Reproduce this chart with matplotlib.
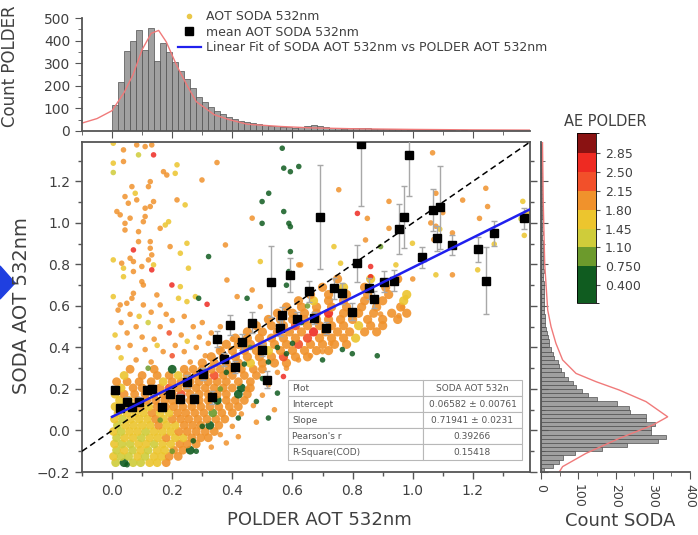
import numpy as np
import matplotlib
matplotlib.use("Agg")
from matplotlib import pyplot as plt
from matplotlib.colors import ListedColormap, BoundaryNorm
from matplotlib.cm import ScalarMappable
from matplotlib.lines import Line2D
from matplotlib.patches import Polygon

plt.rcParams['font.family'] = ['DejaVu Sans']
TXT = '#404040'

# ---------------- data ----------------
ae_bounds = [0.07, 0.75, 1.1, 1.45, 1.8, 2.15, 2.5, 2.85, 3.22]
ae_colors = ['#105c20', '#6c9a2c', '#cfcc3a', '#ecc52e', '#f0922c', '#f2502a', '#ee2a22', '#8a1212']
ae_ticks = [0.4, 0.75, 1.1, 1.45, 1.8, 2.15, 2.5, 2.85]
ae_ticklabels = ['0.400', '0.750', '1.10', '1.45', '1.80', '2.15', '2.50', '2.85']
# AE value of each colour code used below
ae_code = {'e': 0.5, 'v': 0.9, 'y': 1.3, 'g': 1.6, 'o': 2.0, 'r': 2.3, 'R': 2.7}

# dense cloud near the origin: (SODA AOT, POLDER AOT list, AE codes)
blob_rows = [
    (-0.155, [0.012, 0.04, 0.07, 0.095, 0.125, 0.15, 0.18], "yeyyggo"),
    (-0.125, [0.005, 0.03, 0.055, 0.085, 0.11, 0.14, 0.165, 0.19, 0.22], "gyygyggoo"),
    (-0.095, [0.015, 0.04, 0.068, 0.095, 0.12, 0.15, 0.175, 0.205, 0.235, 0.26], "ygygyggooe"),
    (-0.065, [0.008, 0.033, 0.06, 0.088, 0.113, 0.14, 0.168, 0.195, 0.225, 0.25, 0.28], "gyyggyggooo"),
    (-0.035, [0.015, 0.042, 0.07, 0.097, 0.125, 0.152, 0.18, 0.21, 0.237, 0.265, 0.295, 0.32], "yggyggoggooo"),
    (-0.005, [0.005, 0.03, 0.058, 0.085, 0.112, 0.14, 0.167, 0.195, 0.222, 0.25, 0.28, 0.31, 0.34], "gyggygggooooo"),
    (0.025, [0.018, 0.045, 0.072, 0.1, 0.127, 0.155, 0.182, 0.21, 0.24, 0.268, 0.295, 0.325, 0.355], "yggggoggoooeo"),
    (0.055, [0.008, 0.035, 0.062, 0.09, 0.118, 0.145, 0.172, 0.2, 0.228, 0.255, 0.285, 0.315, 0.345, 0.375], "gygggogooooooo"),
    (0.085, [0.02, 0.05, 0.078, 0.105, 0.133, 0.16, 0.19, 0.218, 0.245, 0.275, 0.305, 0.335, 0.365, 0.4], "ggggoggoooovoo"),
    (0.115, [0.01, 0.04, 0.068, 0.095, 0.122, 0.15, 0.178, 0.205, 0.235, 0.265, 0.295, 0.325, 0.355, 0.39, 0.42], "gggogoooooooooo"),
    (0.145, [0.025, 0.055, 0.085, 0.115, 0.145, 0.175, 0.2, 0.23, 0.26, 0.29, 0.32, 0.35, 0.38, 0.41, 0.44], "ggoooooooooeooo"),
    (0.175, [0.01, 0.04, 0.075, 0.11, 0.14, 0.17, 0.2, 0.23, 0.26, 0.29, 0.32, 0.35, 0.38, 0.42, 0.45], "gooooooroooooeo"),
    (0.205, [0.03, 0.07, 0.1, 0.13, 0.16, 0.19, 0.22, 0.25, 0.28, 0.31, 0.34, 0.37, 0.4, 0.43, 0.46], "gooooroooooooeo"),
    (0.235, [0.015, 0.05, 0.09, 0.13, 0.17, 0.2, 0.23, 0.26, 0.29, 0.32, 0.35, 0.38, 0.42, 0.46], "oooogooooooooo"),
    (0.265, [0.04, 0.1, 0.15, 0.19, 0.22, 0.25, 0.28, 0.31, 0.34, 0.37, 0.4, 0.44, 0.48], "gooogoooroooo"),
    (0.295, [0.06, 0.14, 0.2, 0.24, 0.27, 0.3, 0.33, 0.36, 0.39, 0.43, 0.47, 0.5], "ooeooooooooo"),
]

# dense band along the fit line
band_rows = [
    (0.325, [0.3, 0.34, 0.38, 0.42, 0.46, 0.5, 0.54, 0.58], "oooogooo"),
    (0.355, [0.33, 0.37, 0.41, 0.45, 0.49, 0.53, 0.57, 0.61, 0.65], "ooooooroo"),
    (0.385, [0.36, 0.4, 0.44, 0.48, 0.52, 0.56, 0.6, 0.64, 0.68, 0.72], "oooogooooo"),
    (0.415, [0.38, 0.42, 0.46, 0.5, 0.54, 0.58, 0.62, 0.66, 0.7, 0.74, 0.78], "ooooooroooo"),
    (0.445, [0.41, 0.45, 0.49, 0.53, 0.57, 0.61, 0.65, 0.69, 0.73, 0.77, 0.81], "oooooorooog"),
    (0.475, [0.45, 0.5, 0.55, 0.59, 0.63, 0.67, 0.71, 0.75, 0.79, 0.84, 0.88], "oooooRooooo"),
    (0.505, [0.48, 0.53, 0.57, 0.61, 0.65, 0.69, 0.73, 0.77, 0.82, 0.86, 0.9], "oooroooogoo"),
    (0.535, [0.52, 0.56, 0.6, 0.64, 0.68, 0.72, 0.76, 0.8, 0.85, 0.9, 0.95], "ooooooooooo"),
    (0.565, [0.55, 0.6, 0.64, 0.68, 0.72, 0.77, 0.82, 0.87, 0.93, 0.98], "ooooRooooo"),
    (0.595, [0.58, 0.63, 0.68, 0.73, 0.78, 0.83, 0.88, 0.96], "oooooooo"),
    (0.625, [0.62, 0.67, 0.72, 0.77, 0.84, 0.9, 0.97], "ogoooog"),
    (0.655, [0.66, 0.72, 0.78, 0.85, 0.92, 0.98], "ooooog"),
    (0.69, [0.7, 0.77, 0.84, 0.91], "ogoo"),
    (0.73, [0.75, 0.86, 0.95], "ogo"),
]

# sparse points high above the 1:1 line (x, y, code)
pts_upper = [
    (0.004, 1.384, 'g'), (0.038, 1.352, 'o'), (0.082, 1.376, 'o'), (0.11, 1.368, 'o'), (0.132, 1.376, 'o'),
    (0.138, 1.328, 'R'), (0.088, 1.328, 'y'), (0.038, 1.296, 'o'), (0.004, 1.288, 'g'), (0.004, 1.243, 'y'),
    (0.216, 1.28, 'g'), (0.171, 1.247, 'o'), (0.182, 1.231, 'o'), (0.21, 1.239, 'g'), (0.349, 1.291, 'o'),
    (0.299, 1.207, 'o'), (0.127, 1.199, 'o'), (0.066, 1.175, 'o'), (0.121, 1.175, 'o'), (0.077, 1.143, 'g'),
    (0.043, 1.127, 'o'), (0.054, 1.095, 'o'), (0.082, 1.111, 'o'), (0.138, 1.103, 'o'), (0.11, 1.071, 'o'),
    (0.127, 1.079, 'o'), (0.216, 1.111, 'o'), (0.243, 1.087, 'g'), (0.016, 1.055, 'o'), (0.027, 1.039, 'o'),
    (0.06, 1.023, 'o'), (0.11, 1.031, 'o'), (0.104, 1.006, 'o'), (0.043, 0.998, 'o'), (0.188, 1.006, 'g'),
    (0.177, 0.99, 'g'), (0.16, 0.974, 'o'), (0.043, 0.966, 'o'), (0.088, 0.958, 'o'), (0.088, 0.91, 'o'),
    (0.127, 0.91, 'o'), (0.193, 0.886, 'o'), (0.249, 0.902, 'g'), (0.377, 0.894, 'o'), (0.071, 0.87, 'R'),
    (0.127, 0.878, 'o'), (0.132, 0.846, 'o'), (0.06, 0.83, 'o'), (0.004, 0.822, 'g'), (0.032, 0.806, 'o'),
    (0.071, 0.814, 'o'), (0.121, 0.822, 'o'), (0.138, 0.798, 'g'), (0.038, 0.782, 'g'), (0.071, 0.766, 'o'),
    (0.099, 0.79, 'o'), (0.132, 0.774, 'R'), (0.227, 0.854, 'g'), (0.254, 0.782, 'g'), (0.038, 0.741, 'g'),
    (0.099, 0.717, 'o'), (0.104, 0.701, 'o'), (0.382, 0.725, 'o'), (0.199, 0.701, 'R'), (0.227, 0.693, 'g'),
    (0.071, 0.661, 'o'), (0.004, 0.645, 'g'), (0.066, 0.637, 'o'), (0.149, 0.653, 'o'), (0.221, 0.637, 'g'),
    (0.249, 0.621, 'g'), (0.277, 0.645, 'g'), (0.316, 0.608, 'R'), (0.416, 0.645, 'o'), (0.466, 0.677, 'o'),
    (0.493, 0.597, 'o'), (0.027, 0.605, 'o'), (0.049, 0.613, 'o'), (0.104, 0.605, 'o'), (0.16, 0.605, 'o'),
    (0.493, 0.814, 'g'), (0.466, 1.023, 'o'), (0.621, 0.798, 'o'),
    (0.02, 0.58, 'o'), (0.06, 0.56, 'o'), (0.09, 0.55, 'g'), (0.13, 0.57, 'o'), (0.18, 0.56, 'o'),
    (0.03, 0.52, 'o'), (0.08, 0.5, 'o'), (0.12, 0.52, 'y'), (0.16, 0.5, 'o'), (0.2, 0.53, 'o'),
    (0.24, 0.55, 'o'), (0.01, 0.46, 'g'), (0.05, 0.47, 'o'), (0.1, 0.45, 'o'), (0.14, 0.44, 'o'),
    (0.19, 0.47, 'r'), (0.23, 0.46, 'o'), (0.27, 0.5, 'o'), (0.3, 0.52, 'o'), (0.02, 0.4, 'o'),
    (0.06, 0.41, 'o'), (0.11, 0.39, 'o'), (0.15, 0.41, 'g'), (0.17, 0.38, 'o'), (0.21, 0.41, 'o'),
    (0.25, 0.43, 'g'), (0.29, 0.45, 'o'), (0.33, 0.47, 'o'), (0.36, 0.5, 'o'), (0.03, 0.35, 'g'),
    (0.08, 0.34, 'o'), (0.13, 0.33, 'o'), (0.2, 0.36, 'r'), (0.24, 0.38, 'o'), (0.28, 0.4, 'o'),
    (0.32, 0.42, 'o'), (0.26, 0.33, 'o'), (0.31, 0.36, 'o'), (0.36, 0.39, 'o'), (0.4, 0.44, 'o'),
]

# green (low AE) points
pts_green = [
    (0.566, 1.36, 'e'), (0.571, 1.264, 'e'), (0.593, 1.247, 'e'), (0.621, 1.272, 'e'), (0.521, 1.143, 'e'),
    (0.499, 1.103, 'e'), (0.571, 1.055, 'e'), (0.499, 0.998, 'e'), (0.588, 0.998, 'e'), (0.593, 0.982, 'e'),
    (0.593, 0.862, 'e'), (0.321, 0.838, 'e'), (0.588, 0.766, 'e'), (0.288, 0.637, 'e'), (0.449, 0.637, 'e'),
    (0.893, 0.886, 'v'), (0.766, 0.39, 'e'), (0.799, 0.37, 'e'), (0.882, 0.36, 'e'), (0.7, 0.34, 'e'),
    (0.63, 0.52, 'e'), (0.6, 0.42, 'e'), (0.65, 0.6, 'v'), (0.58, 0.7, 'e'), (0.38, 0.28, 'e'),
    (0.33, 0.17, 'e'), (0.36, 0.2, 'v'), (0.44, 0.32, 'e'), (0.46, 0.4, 'v'), (0.5, 0.25, 'e'),
    (0.48, 0.14, 'e'), (0.52, 0.33, 'e'), (0.27, -0.05, 'e'), (0.2, -0.1, 'v'), (0.05, -0.165, 'e'),
    (0.16, 0.05, 'v'), (0.3, 0.02, 'e'), (0.55, 0.18, 'e'), (0.52, 0.06, 'e'), (0.28, -0.1, 'e'),
    (0.12, 0.3, 'v'), (0.42, 0.06, 'e'), (0.55, 0.4, 'e'), (0.58, 0.37, 'e'),
]

# sparse points on the right and below the band
pts_right = [
    (1.066, 1.338, 'o'), (0.754, 1.16, 'o'), (0.921, 1.104, 'o'), (1.166, 1.11, 'o'), (1.243, 1.167, 'o'),
    (1.249, 1.079, 'o'), (1.222, 1.022, 'o'), (1.366, 1.104, 'g'), (1.371, 0.94, 'g'), (1.271, 0.898, 'g'),
    (1.077, 1.143, 'o'), (1.077, 0.984, 'o'), (1.132, 0.952, 'o'), (1.132, 0.75, 'o'), (1.077, 0.75, 'g'),
    (1.216, 0.774, 'g'), (0.999, 0.902, 'g'), (0.816, 1.046, 'R'), (0.849, 1.022, 'o'), (0.843, 0.918, 'o'),
    (0.921, 0.974, 'o'), (0.738, 0.886, 'g'), (0.76, 0.806, 'g'), (0.627, 0.798, 'o'), (0.86, 0.79, 'R'),
    (0.944, 0.798, 'g'), (0.86, 0.741, 'R'), (0.977, 0.64, 'g'), (0.966, 0.593, 'o'), (0.954, 0.553, 'o'),
    (0.893, 0.561, 'o'), (0.727, 0.42, 'o'), (1.36, 1.02, 'y'), (1.38, 1.05, 'g'), (1.0, 0.73, 'o'),
    (1.07, 0.92, 'o'), (1.1, 1.05, 'o'), (1.06, 1.0, 'o'), (1.09, 0.97, 'g'),
    (0.36, -0.02, 'o'), (0.4, 0.02, 'o'), (0.43, 0.08, 'o'), (0.47, 0.12, 'o'), (0.5, 0.17, 'o'),
    (0.45, 0.2, 'o'), (0.52, 0.22, 'o'), (0.55, 0.28, 'o'), (0.38, -0.06, 'o'), (0.33, -0.08, 'o'),
    (0.42, -0.03, 'o'), (0.48, 0.04, 'o'), (0.58, 0.3, 'o'), (0.62, 0.34, 'o'), (0.54, 0.1, 'o'),
    (0.57, 0.26, 'R'), (0.66, 0.36, 'o'), (0.7, 0.38, 'o'),
]

# mean SODA AOT per POLDER AOT bin: x, y, std
mean_x = [0.01, 0.027, 0.049, 0.066, 0.088, 0.115, 0.132, 0.166, 0.193, 0.226, 0.249, 0.271, 0.304,
          0.332, 0.349, 0.371, 0.393, 0.41, 0.432, 0.466, 0.499, 0.516, 0.527, 0.56, 0.566, 0.593,
          0.616, 0.654, 0.671, 0.693, 0.71, 0.738, 0.766, 0.799, 0.816, 0.827, 0.854, 0.871, 0.904,
          0.938, 0.954, 0.971, 0.988, 1.032, 1.067, 1.08, 1.091, 1.132, 1.216, 1.243, 1.271, 1.369]
mean_y = [0.195, 0.107, 0.139, 0.114, 0.139, 0.195, 0.198, 0.114, 0.178, 0.154, 0.235, 0.154, 0.272,
          0.159, 0.44, 0.343, 0.508, 0.307, 0.427, 0.52, 0.387, 0.245, 0.717, 0.493, 0.555, 0.749,
          0.539, 0.67, 0.541, 1.03, 0.493, 0.685, 0.661, 0.573, 0.806, 1.38, 0.685, 0.632, 0.717,
          0.722, 0.971, 1.027, 1.328, 0.835, 1.063, 0.926, 1.076, 0.894, 0.873, 0.722, 0.95, 1.022]
mean_err = [0.02, 0.02, 0.02, 0.02, 0.02, 0.02, 0.02, 0.02, 0.02, 0.02, 0.03, 0.02, 0.03,
            0.03, 0.04, 0.03, 0.05, 0.03, 0.04, 0.05, 0.03, 0.04, 0.17, 0.04, 0.04, 0.08,
            0.03, 0.05, 0.03, 0.25, 0.03, 0.05, 0.05, 0.04, 0.09, 0.3, 0.05, 0.04, 0.05,
            0.05, 0.12, 0.15, 0.2, 0.05, 0.1, 0.06, 0.2, 0.05, 0.06, 0.16, 0.06, 0.05]

fit_intercept = 0.06582
fit_slope = 0.71941
fit_range = [0.0, 1.39]

table_rows = [["Plot", "SODA AOT 532n"],
              ["Intercept", "0.06582 \u00b1 0.00761"],
              ["Slope", "0.71941 \u00b1 0.0231"],
              ["Pearson's r", "0.39266"],
              ["R-Square(COD)", "0.15418"]]

# histogram of POLDER AOT (bins of 0.02 starting at 0)
polder_bin_start, bin_w = 0.0, 0.02
polder_counts = [115, 218, 355, 400, 445, 360, 455, 310, 390, 350, 305, 265, 228, 190, 152, 128, 105,
                 90, 76, 64, 55, 46, 40, 35, 30, 27, 24, 20, 18, 16, 14, 17, 24, 27, 24, 19, 15, 12,
                 10, 12, 14, 15, 12, 10, 9, 8, 10, 9, 7, 6, 5, 4, 5, 4, 3, 4, 3, 2, 3, 2, 2, 1, 2, 1, 1]
polder_curve_x = [-0.1, -0.05, 0.0, 0.04, 0.07, 0.1, 0.13, 0.155, 0.18, 0.215, 0.25, 0.28, 0.34,
                  0.39, 0.45, 0.56, 0.66, 0.8, 1.0, 1.2, 1.39]
polder_curve_c = [35, 55, 90, 170, 250, 360, 432, 445, 395, 290, 200, 130, 72, 50, 30, 20, 14, 10, 7, 5, 4]

# histogram of SODA AOT (bins of 0.02 starting at -0.2)
soda_bin_start = -0.2
soda_counts = [9, 31, 48, 60, 90, 165, 230, 315, 336, 296, 296, 305, 282, 282, 240, 235, 205, 150, 125,
               110, 94, 85, 72, 63, 54, 49, 45, 36, 31, 27, 22, 21, 18, 16, 13, 12, 10, 10, 9, 9, 8,
               8, 9, 7, 7, 8, 6, 6, 7, 6, 5, 6, 5, 5, 6, 5, 4, 5, 4, 4, 5, 4, 3, 4, 3, 3, 4, 3, 3, 2,
               3, 2, 3, 2, 2, 3, 2, 2, 2]
soda_curve_y = [-0.2, -0.174, -0.11, -0.038, 0.026, 0.066, 0.139, 0.195, 0.235, 0.275, 0.34, 0.42,
                0.5, 0.58, 0.8, 1.1, 1.39]
soda_curve_c = [49, 58, 121, 210, 300, 340, 282, 210, 148, 94, 58, 40, 27, 18, 10, 6, 4]

# ---------------- figure ----------------
W, H = 698, 535
fig = plt.figure(figsize=(W / 100, H / 100), dpi=100)
ax = fig.add_axes([82 / W, 1 - 472 / H, 448 / W, 330 / H])
ax_top = fig.add_axes([82 / W, 1 - 131 / H, 448 / W, 113 / H])
ax_right = fig.add_axes([541 / W, 1 - 472 / H, 149 / W, 330 / H])
cax = fig.add_axes([577 / W, 1 - 303 / H, 19 / W, 170 / H])

cmap = ListedColormap(ae_colors)
norm = BoundaryNorm(ae_bounds, cmap.N)


def expand_rows(rows):
    xs, ys, cs = [], [], []
    for yv, xv, codes in rows:
        for xx, cc in zip(xv, codes):
            xs.append(xx)
            ys.append(yv)
            cs.append(ae_code[cc])
    return xs, ys, cs


def expand_pts(pts):
    return [p[0] for p in pts], [p[1] for p in pts], [ae_code[p[2]] for p in pts]


xs, ys, cs = expand_rows(blob_rows)
ax.scatter(xs, ys, c=cs, cmap=cmap, norm=norm, s=40, alpha=0.9, edgecolors='none', zorder=2)
xs, ys, cs = expand_rows(band_rows)
ax.scatter(xs, ys, c=cs, cmap=cmap, norm=norm, s=44, alpha=0.9, edgecolors='none', zorder=2)
for pts in (pts_upper, pts_right, pts_green):
    xs, ys, cs = expand_pts(pts)
    ax.scatter(xs, ys, c=cs, cmap=cmap, norm=norm, s=16, alpha=0.85, edgecolors='none', zorder=2)

ax.axline((0, 0), slope=1, color='black', lw=1.1, ls=(0, (4, 2.5)), zorder=4)
ax.errorbar(mean_x, mean_y, yerr=mean_err, fmt='s', color='black', ms=5.5, ecolor='#a8a8a8',
            elinewidth=1.0, capsize=2.5, zorder=5)
fit_y = [fit_intercept + fit_slope * v for v in fit_range]
ax.plot(fit_range, fit_y, color='#2020ee', lw=1.8, zorder=6)

ax.set_xlim(-0.1, 1.39)
ax.set_ylim(-0.2, 1.39)
ax.set_xticks([0.0, 0.2, 0.4, 0.6, 0.8, 1.0, 1.2])
ax.set_yticks([-0.2, 0.0, 0.2, 0.4, 0.6, 0.8, 1.0, 1.2])
ax.set_xticks(np.arange(-0.1, 1.39, 0.1), minor=True)
ax.set_yticks(np.arange(-0.1, 1.39, 0.1), minor=True)
ax.tick_params(which='both', direction='out', colors='#555555', labelcolor=TXT, labelsize=10,
               right=True, width=1.0)
ax.tick_params(which='major', length=5)
ax.tick_params(which='minor', length=3)
for sp in ax.spines.values():
    sp.set_color('#555555')
    sp.set_linewidth(1.3)

tbl = ax.table(cellText=table_rows, colWidths=[0.577, 0.423], bbox=[0.46, 0.036, 0.522, 0.242],
               cellLoc='center')
tbl.auto_set_font_size(False)
tbl.set_fontsize(6.5)
tbl.set_zorder(10)
for (r, c), cell in tbl.get_celld().items():
    cell.set_edgecolor('#b8b8b8')
    cell.set_linewidth(0.8)
    cell.set_facecolor('white')
    cell.get_text().set_color('#555555')
    if c == 0:
        cell.get_text().set_horizontalalignment('left')
        cell.PAD = 0.03

# top histogram
polder_left = polder_bin_start + bin_w * np.arange(len(polder_counts))
ax_top.bar(polder_left, polder_counts, width=bin_w, align='edge', color='#a0a0a0',
           edgecolor='#505050', linewidth=0.5)
ax_top.plot(polder_curve_x, polder_curve_c, color='#f07a7a', lw=1.0)
ax_top.set_xlim(-0.1, 1.39)
ax_top.set_ylim(0, 500)
ax_top.set_yticks([0, 100, 200, 300, 400, 500])
ax_top.set_yticks(np.arange(50, 500, 100), minor=True)
ax_top.set_xticks([0.0, 0.2, 0.4, 0.6, 0.8, 1.0, 1.2])
ax_top.set_xticks(np.arange(-0.1, 1.39, 0.1), minor=True)
ax_top.tick_params(axis='x', which='both', labelbottom=False, direction='out', colors='#555555')
ax_top.tick_params(axis='y', which='both', direction='out', colors='#555555', labelcolor=TXT,
                   labelsize=10)
ax_top.tick_params(which='major', length=5)
ax_top.tick_params(which='minor', length=3)
ax_top.spines['top'].set_visible(False)
ax_top.spines['right'].set_visible(False)
for sp in ('left', 'bottom'):
    ax_top.spines[sp].set_color('#555555')
    ax_top.spines[sp].set_linewidth(1.3)
ax_top.patch.set_alpha(0)

# right histogram
soda_bottom = soda_bin_start + bin_w * np.arange(len(soda_counts))
ax_right.barh(soda_bottom, soda_counts, height=bin_w, align='edge', color='#a0a0a0',
              edgecolor='#505050', linewidth=0.5)
ax_right.plot(soda_curve_c, soda_curve_y, color='#f07a7a', lw=1.0)
ax_right.set_ylim(-0.2, 1.39)
ax_right.set_xlim(0, 400)
ax_right.set_xticks([0, 100, 200, 300, 400])
ax_right.set_xticks([50, 150, 250, 350], minor=True)
ax_right.set_yticks([-0.2, 0.0, 0.2, 0.4, 0.6, 0.8, 1.0, 1.2])
ax_right.set_yticks(np.arange(-0.1, 1.39, 0.1), minor=True)
ax_right.tick_params(axis='y', which='both', labelleft=False, direction='in', colors='#555555')
ax_right.tick_params(axis='x', which='both', direction='out', colors='#555555', labelcolor=TXT,
                     labelsize=9, labelrotation=-90)
ax_right.tick_params(which='major', length=5)
ax_right.tick_params(which='minor', length=3)
ax_right.spines['top'].set_visible(False)
ax_right.spines['right'].set_visible(False)
for sp in ('left', 'bottom'):
    ax_right.spines[sp].set_color('#555555')
    ax_right.spines[sp].set_linewidth(1.3)
ax_right.patch.set_alpha(0)

# colour bar
cb = fig.colorbar(ScalarMappable(norm=norm, cmap=cmap), cax=cax, spacing='proportional',
                  ticks=ae_ticks)
cb.ax.set_yticklabels(ae_ticklabels)
cb.ax.tick_params(labelsize=9, labelcolor=TXT, colors='#555555', length=3, direction='out')
cb.outline.set_linewidth(0.6)
fig.text(605 / W, 1 - 122 / H, 'AE POLDER', ha='center', va='center', fontsize=10.5, color=TXT)

# legend
handles = [Line2D([], [], ls='none', marker='o', ms=3, color='#eac84a'),
           Line2D([], [], ls='none', marker='s', ms=5.5, color='black'),
           Line2D([], [], color='#2020ee', lw=1.6)]
labels = ['AOT SODA 532nm', 'mean AOT SODA 532nm', 'Linear Fit of SODA AOT 532nm vs POLDER AOT 532nm']
fig.legend(handles, labels, loc='upper left', bbox_to_anchor=(178 / W, 1 - 10 / H), frameon=False,
           fontsize=9, handlelength=1.8, handletextpad=0.4, labelspacing=0.2, borderpad=0,
           borderaxespad=0, labelcolor=TXT)

# axis titles
fig.text(22 / W, 1 - 306 / H, 'SODA AOT 532nm', rotation=90, ha='center', va='center',
         fontsize=14, color=TXT)
fig.text(319 / W, 1 - 520 / H, 'POLDER AOT 532nm', ha='center', va='center', fontsize=13, color=TXT)
fig.text(10 / W, 1 - 66 / H, 'Count POLDER', rotation=90, ha='center', va='center', fontsize=12,
         color=TXT)
fig.text(620 / W, 1 - 521 / H, 'Count SODA', ha='center', va='center', fontsize=13, color=TXT)

# blue arrow at the left edge
fig.patches.append(Polygon([[0, 1 - 266 / H], [15 / W, 1 - 283 / H], [0, 1 - 299 / H]], closed=True,
                           transform=fig.transFigure, color='#1f3fe0'))

fig.savefig('out.png', dpi=100)
